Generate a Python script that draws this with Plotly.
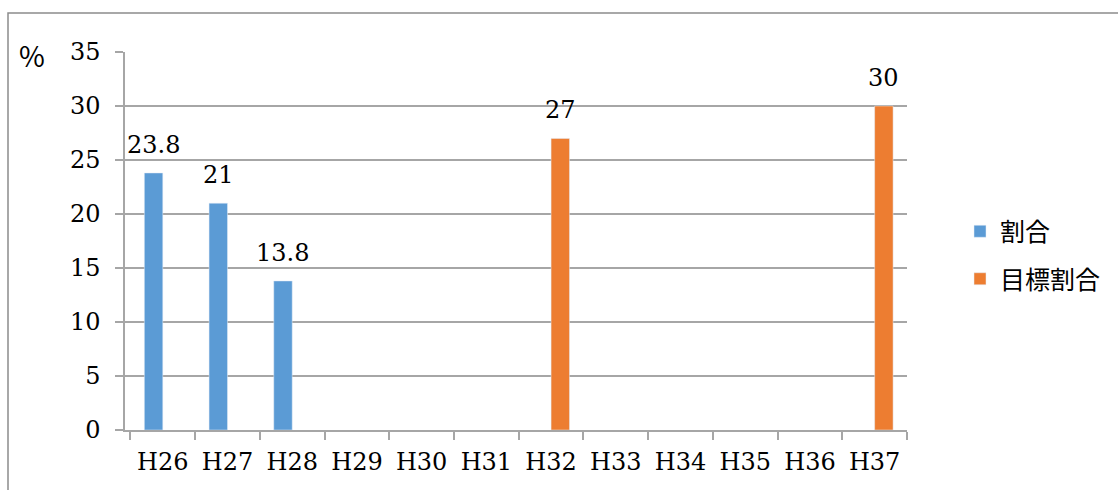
import plotly.graph_objects as go

# Fiscal years (Heisei era) on the category axis
years = ["H26", "H27", "H28", "H29", "H30", "H31",
         "H32", "H33", "H34", "H35", "H36", "H37"]

# Actual share (%) for the years with results
actual = [23.8, 21, 13.8, None, None, None,
          None, None, None, None, None, None]

# Target share (%)
target = [None, None, None, None, None, None,
          27, None, None, None, None, 30]

y_ticks = [0, 5, 10, 15, 20, 25, 30, 35]

BLUE = "#5B9BD5"
ORANGE = "#ED7D31"
GRID = "#A6A6A6"
SERIF = "DejaVu Serif"
CJK = "Noto Sans CJK JP"

W, H = 1118, 490
ML, MR, MT, MB = 125, 211, 52, 60
plot_w = W - ML - MR
plot_h = H - MT - MB

fig = go.Figure()
fig.add_trace(go.Bar(x=years, y=actual, name="割合", marker_color=BLUE,
                     legendgroup="a"))
fig.add_trace(go.Bar(x=years, y=target, name="目標割合", marker_color=ORANGE,
                     legendgroup="b"))

bargap = 0.43
cat_px = plot_w / len(years)
shift = cat_px * (1 - bargap) / 4  # half a bar width from category centre

# Value labels above each bar
for series, dx in ((actual, -shift), (target, shift)):
    for yr, v in zip(years, series):
        if v is None:
            continue
        fig.add_annotation(x=yr, y=v, text=f"{v:g}", showarrow=False,
                           xshift=dx, yanchor="bottom", yshift=12,
                           font=dict(family=SERIF, size=24, color="#000000"))

# Unit label
fig.add_annotation(xref="paper", yref="paper",
                   x=(32 - ML) / plot_w, y=(H - MB - 55) / plot_h,
                   text="%", showarrow=False, xanchor="center", yanchor="middle",
                   font=dict(family=CJK, size=28, color="#000000"))

# Outer frame of the chart area
fig.add_shape(type="rect", xref="paper", yref="paper",
              x0=(8 - ML) / plot_w, x1=(W + 20 - ML) / plot_w,
              y0=(H - MB - (H + 20)) / plot_h, y1=(H - MB - 13) / plot_h,
              line=dict(color="#8C8C8C", width=1.5), layer="below")

fig.update_layout(
    width=W, height=H,
    margin=dict(l=ML, r=MR, t=MT, b=MB),
    paper_bgcolor="#FFFFFF", plot_bgcolor="#FFFFFF",
    barmode="group", bargap=bargap, bargroupgap=0,
    showlegend=True,
    legend=dict(x=(960 - ML) / plot_w, xanchor="left",
                y=(H - MB - 255) / plot_h, yanchor="middle",
                font=dict(family=CJK, size=25, color="#000000"),
                tracegroupgap=12, traceorder="grouped",
                bgcolor="rgba(0,0,0,0)"),
    xaxis=dict(type="category", categoryorder="array", categoryarray=years,
               showline=True, linecolor=GRID, linewidth=1.5,
               ticks="outside", tickson="boundaries", ticklen=8,
               tickcolor=GRID, tickwidth=1.5, showgrid=False,
               ticklabelstandoff=9,
               tickfont=dict(family=SERIF, size=24, color="#000000")),
    yaxis=dict(range=[0, 35], tickvals=y_ticks, showline=True,
               linecolor=GRID, linewidth=1.5, ticks="outside", ticklen=8,
               tickcolor=GRID, tickwidth=1.5, showgrid=True,
               gridcolor=GRID, gridwidth=1.5, zeroline=False,
               ticklabelstandoff=10,
               tickfont=dict(family=SERIF, size=24, color="#000000")),
)

fig.write_html("out.html")
